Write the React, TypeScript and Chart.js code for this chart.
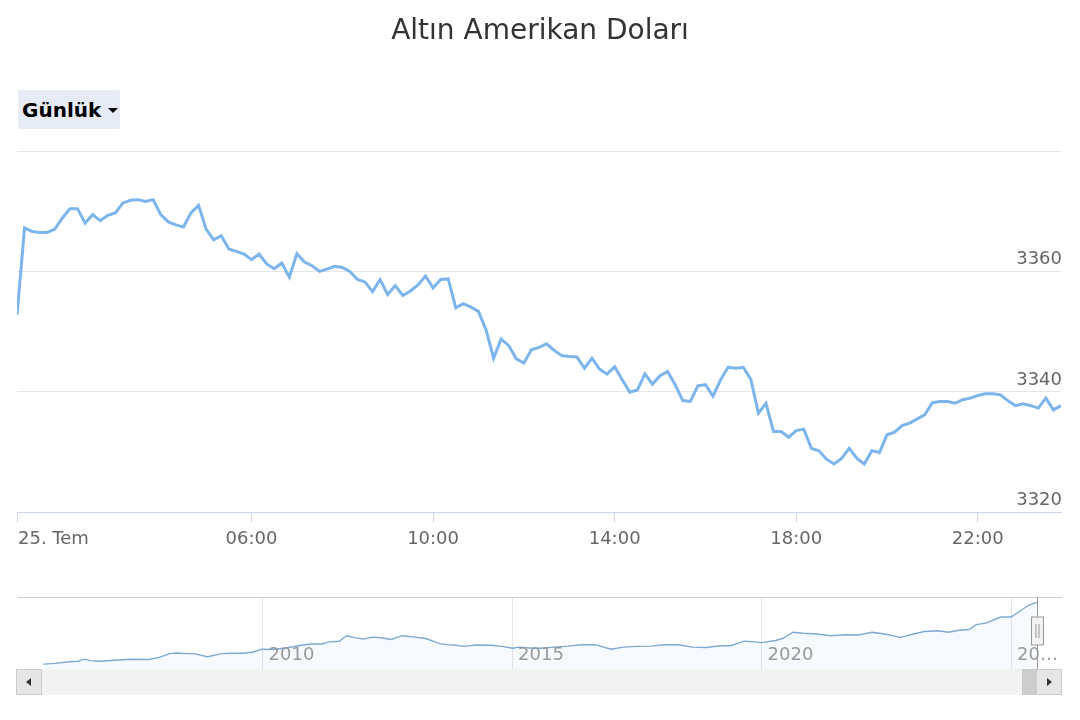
import React, { useEffect, useRef } from "react";
import { Chart, registerables } from "chart.js";

Chart.register(...registerables);

const FONT = "'DejaVu Sans', 'Lucida Grande', Verdana, sans-serif";

const chartTitle = "Altın Amerikan Doları";
const rangeLabel = "Günlük";

// Intraday prices, 10-minute samples starting at 00:50
const startMinute = 50;
const stepMinutes = 10;
const prices = [
  3352.8, 3367.3, 3366.7, 3366.55, 3366.55, 3367.1, 3368.95, 3370.5, 3370.5, 3368.1,
  3369.5, 3368.5, 3369.4, 3369.8, 3371.45, 3371.9, 3372.0, 3371.7, 3372.0, 3369.5,
  3368.3, 3367.8, 3367.45, 3369.8, 3371.05, 3367.1, 3365.3, 3366.0, 3363.8, 3363.4,
  3362.95, 3362.0, 3362.95, 3361.3, 3360.5, 3361.45, 3359.1, 3363.0, 3361.6, 3361.0,
  3360.05, 3360.45, 3360.9, 3360.7, 3360.05, 3358.7, 3358.3, 3356.7, 3358.7, 3356.2,
  3357.7, 3356.05, 3356.8, 3357.8, 3359.3, 3357.3, 3358.7, 3358.8, 3354.0, 3354.7,
  3354.1, 3353.4, 3350.3, 3345.6, 3348.8, 3347.7, 3345.5, 3344.8, 3347.0, 3347.4,
  3348.0, 3346.9, 3346.05, 3345.9, 3345.8, 3343.95, 3345.6, 3343.8, 3342.95, 3344.2,
  3342.0, 3339.95, 3340.3, 3343.0, 3341.3, 3342.7, 3343.4, 3341.2, 3338.55, 3338.4,
  3341.0, 3341.2, 3339.3, 3342.0, 3344.1, 3343.95, 3344.1, 3342.1, 3336.45, 3338.1,
  3333.4, 3333.4, 3332.45, 3333.55, 3333.8, 3330.6, 3330.2, 3328.8, 3328.0, 3328.9,
  3330.6, 3328.95, 3328.0, 3330.2, 3329.9, 3332.85, 3333.3, 3334.4, 3334.8, 3335.5,
  3336.2, 3338.2, 3338.4, 3338.4, 3338.1, 3338.7, 3338.95, 3339.4, 3339.7, 3339.7,
  3339.5, 3338.5, 3337.7, 3338.0, 3337.7, 3337.3, 3338.95, 3337.0, 3337.7,
];

const xTickMinutes = [50, 360, 600, 840, 1080, 1320];
const xTickLabels = ["25. Tem", "06:00", "10:00", "14:00", "18:00", "22:00"];
const yMin = 3320;
const yMax = 3380;
const yStep = 20;

// Navigator: long-term history
const navYears = [
  2005.61, 2005.85, 2006.13, 2006.3, 2006.44, 2006.54, 2006.75, 2007.03, 2007.37, 2007.72,
  2007.93, 2008.14, 2008.28, 2008.48, 2008.62, 2008.9, 2009.18, 2009.39, 2009.6, 2009.8,
  2009.98, 2010.22, 2010.5, 2010.77, 2010.98, 2011.19, 2011.33, 2011.54, 2011.68, 2011.82,
  2012.02, 2012.2, 2012.37, 2012.58, 2012.79, 2013.06, 2013.27, 2013.55, 2013.69, 2013.83,
  2014.03, 2014.28, 2014.59, 2014.8, 2015.01, 2015.14, 2015.42, 2015.56, 2015.84, 2016.12,
  2016.39, 2016.67, 2016.98, 2017.23, 2017.5, 2017.78, 2018.06, 2018.34, 2018.61, 2018.89,
  2019.17, 2019.38, 2019.65, 2019.86, 2020.0, 2020.28, 2020.42, 2020.63, 2020.83, 2021.11,
  2021.39, 2021.67, 2021.94, 2022.22, 2022.5, 2022.78, 2023.05, 2023.26, 2023.54, 2023.75,
  2023.95, 2024.16, 2024.3, 2024.51, 2024.79, 2025.0, 2025.13, 2025.34, 2025.52,
];
const navValues = [
  425, 458, 538, 557, 655, 590, 557, 604, 655, 641,
  740, 918, 946, 918, 918, 770, 918, 932, 932, 980,
  1125, 1111, 1190, 1308, 1369, 1369, 1467, 1500, 1758, 1678,
  1598, 1692, 1664, 1580, 1758, 1692, 1627, 1384, 1341, 1322,
  1256, 1322, 1308, 1256, 1172, 1223, 1172, 1172, 1223, 1270,
  1336, 1336, 1125, 1223, 1256, 1270, 1336, 1336, 1223, 1205,
  1289, 1289, 1500, 1467, 1434, 1533, 1627, 1922, 1871, 1838,
  1758, 1805, 1791, 1922, 1824, 1678, 1838, 1955, 1988, 1922,
  2016, 2049, 2279, 2359, 2636, 2636, 2833, 3175, 3335,
];
const navTickYears = [2010, 2015, 2020, 2025];
const navTickLabels = ["2010", "2015", "2020", "20…"];

export default function App() {
  const mainRef = useRef<HTMLCanvasElement | null>(null);
  const navRef = useRef<HTMLCanvasElement | null>(null);

  useEffect(() => {
    const mainCanvas = mainRef.current;
    const navCanvas = navRef.current;
    if (!mainCanvas || !navCanvas) return;

    const xLabelsPlugin = {
      id: "xLabels",
      afterDraw(chart: any) {
        const ctx = chart.ctx;
        const xs = chart.scales.x;
        const area = chart.chartArea;
        ctx.save();
        ctx.font = `18px ${FONT}`;
        ctx.fillStyle = "#666666";
        ctx.textBaseline = "middle";
        xTickMinutes.forEach((m, i) => {
          const px = xs.getPixelForValue(m);
          ctx.textAlign = i === 0 ? "left" : "center";
          ctx.fillText(xTickLabels[i], i === 0 ? px + 1 : px, area.bottom + 27);
        });
        ctx.restore();
      },
    };

    const main = new Chart(mainCanvas, {
      type: "line",
      data: {
        datasets: [
          {
            data: prices.map((v, i) => ({ x: startMinute + i * stepMinutes, y: v })),
            borderColor: "#7cb5ec",
            borderWidth: 3,
            pointRadius: 0,
            tension: 0,
            fill: false,
          },
        ],
      },
      options: {
        animation: false,
        responsive: false,
        maintainAspectRatio: false,
        layout: { padding: { left: 17, right: 17, top: 0, bottom: 48 } },
        plugins: {
          legend: { display: false },
          tooltip: { enabled: false },
          title: {
            display: true,
            text: chartTitle,
            color: "#333333",
            font: { family: FONT, size: 28, weight: "normal" },
            padding: { top: 15, bottom: 103 },
          },
        },
        scales: {
          x: {
            type: "linear",
            min: startMinute,
            max: startMinute + (prices.length - 1) * stepMinutes,
            afterBuildTicks: (scale: any) => {
              scale.ticks = xTickMinutes.map((v) => ({ value: v }));
            },
            ticks: { display: false },
            grid: {
              display: true,
              drawOnChartArea: false,
              drawTicks: true,
              tickLength: 10,
              color: "#ccd6eb",
            },
            border: { display: true, color: "#ccd6eb", width: 1 },
          },
          y: {
            type: "linear",
            position: "right",
            min: yMin,
            max: yMax,
            ticks: {
              stepSize: yStep,
              mirror: true,
              labelOffset: -12,
              padding: 1,
              color: "#666666",
              font: { family: FONT, size: 18 },
              callback: (v: any) => (v === yMax ? "" : String(v)),
            },
            grid: { color: "#e6e6e6", drawTicks: false },
            border: { display: false },
          },
        },
      },
      plugins: [xLabelsPlugin],
    } as any);

    const navPlugin = {
      id: "navDecor",
      afterDraw(chart: any) {
        const ctx = chart.ctx;
        const xs = chart.scales.x;
        const area = chart.chartArea;
        ctx.save();
        ctx.strokeStyle = "#cccccc";
        ctx.lineWidth = 1;
        ctx.beginPath();
        ctx.moveTo(area.left, area.top + 0.5);
        ctx.lineTo(area.right, area.top + 0.5);
        ctx.stroke();
        ctx.font = `18px ${FONT}`;
        ctx.fillStyle = "#999999";
        ctx.textAlign = "left";
        ctx.textBaseline = "middle";
        navTickYears.forEach((yr, i) => {
          const px = xs.getPixelForValue(yr);
          ctx.fillText(navTickLabels[i], px + 6, area.bottom - 14);
        });
        const hx = Math.round(xs.getPixelForValue(navYears[navYears.length - 1])) + 0.5;
        ctx.strokeStyle = "#999999";
        ctx.beginPath();
        ctx.moveTo(hx, area.top);
        ctx.lineTo(hx, area.bottom);
        ctx.stroke();
        const hTop = area.top + 20;
        const hH = 28;
        ctx.fillStyle = "#f2f2f2";
        ctx.fillRect(hx - 6, hTop, 12, hH);
        ctx.strokeStyle = "#999999";
        ctx.strokeRect(hx - 6, hTop, 12, hH);
        ctx.beginPath();
        ctx.moveTo(hx - 1.5, hTop + 7);
        ctx.lineTo(hx - 1.5, hTop + hH - 7);
        ctx.moveTo(hx + 1.5, hTop + 7);
        ctx.lineTo(hx + 1.5, hTop + hH - 7);
        ctx.stroke();
        ctx.restore();
      },
    };

    const nav = new Chart(navCanvas, {
      type: "line",
      data: {
        datasets: [
          {
            data: navYears.map((yr, i) => ({ x: yr, y: navValues[i] })),
            borderColor: "#7ea9d1",
            borderWidth: 1.4,
            pointRadius: 0,
            tension: 0,
            fill: "start",
            backgroundColor: "rgba(124,181,236,0.07)",
          },
        ],
      },
      options: {
        animation: false,
        responsive: false,
        maintainAspectRatio: false,
        layout: { padding: { left: 18, right: 18, top: 7, bottom: 5 } },
        plugins: { legend: { display: false }, tooltip: { enabled: false }, title: { display: false } },
        scales: {
          x: {
            type: "linear",
            min: 2005.1,
            max: 2026.02,
            afterBuildTicks: (scale: any) => {
              scale.ticks = navTickYears.map((v) => ({ value: v }));
            },
            ticks: { display: false },
            grid: { color: "#e6e6e6", drawTicks: false },
            border: { display: false },
          },
          y: { display: false, min: 195, max: 3574 },
        },
      },
      plugins: [navPlugin],
    } as any);

    return () => {
      main.destroy();
      nav.destroy();
    };
  }, []);

  return (
    <div
      style={{
        position: "absolute",
        left: 0,
        top: 0,
        width: 1080,
        height: 720,
        background: "#ffffff",
        overflow: "hidden",
      }}
    >
      <canvas
        ref={mainRef}
        width={1080}
        height={570}
        style={{ position: "absolute", left: 0, top: 0, width: 1080, height: 570 }}
      />
      <div
        style={{
          position: "absolute",
          left: 18,
          top: 90,
          width: 102,
          height: 39,
          background: "#e6ebf5",
          borderRadius: 2,
          fontFamily: FONT,
          fontWeight: "bold",
          fontSize: 20,
          lineHeight: "40px",
          color: "#000000",
          boxSizing: "border-box",
          paddingLeft: 4,
        }}
      >
        {rangeLabel}
        <span
          style={{
            position: "absolute",
            left: 90,
            top: 18,
            width: 0,
            height: 0,
            borderLeft: "5px solid transparent",
            borderRight: "5px solid transparent",
            borderTop: "5px solid #000000",
          }}
        />
      </div>
      <canvas
        ref={navRef}
        width={1080}
        height={84}
        style={{ position: "absolute", left: 0, top: 590, width: 1080, height: 84 }}
      />
      <div style={{ position: "absolute", left: 16, top: 669, width: 1046, height: 26, background: "#f2f2f2" }} />
      <div
        style={{
          position: "absolute",
          left: 16,
          top: 669,
          width: 26,
          height: 26,
          background: "#e6e6e6",
          border: "1px solid #cccccc",
          boxSizing: "border-box",
        }}
      >
        <span
          style={{
            position: "absolute",
            left: 9,
            top: 8,
            width: 0,
            height: 0,
            borderTop: "4px solid transparent",
            borderBottom: "4px solid transparent",
            borderRight: "5px solid #333333",
          }}
        />
      </div>
      <div style={{ position: "absolute", left: 1022, top: 669, width: 14, height: 26, background: "#cccccc" }} />
      <div
        style={{
          position: "absolute",
          left: 1036,
          top: 669,
          width: 26,
          height: 26,
          background: "#e6e6e6",
          border: "1px solid #cccccc",
          boxSizing: "border-box",
        }}
      >
        <span
          style={{
            position: "absolute",
            left: 10,
            top: 8,
            width: 0,
            height: 0,
            borderTop: "4px solid transparent",
            borderBottom: "4px solid transparent",
            borderLeft: "5px solid #333333",
          }}
        />
      </div>
    </div>
  );
}
